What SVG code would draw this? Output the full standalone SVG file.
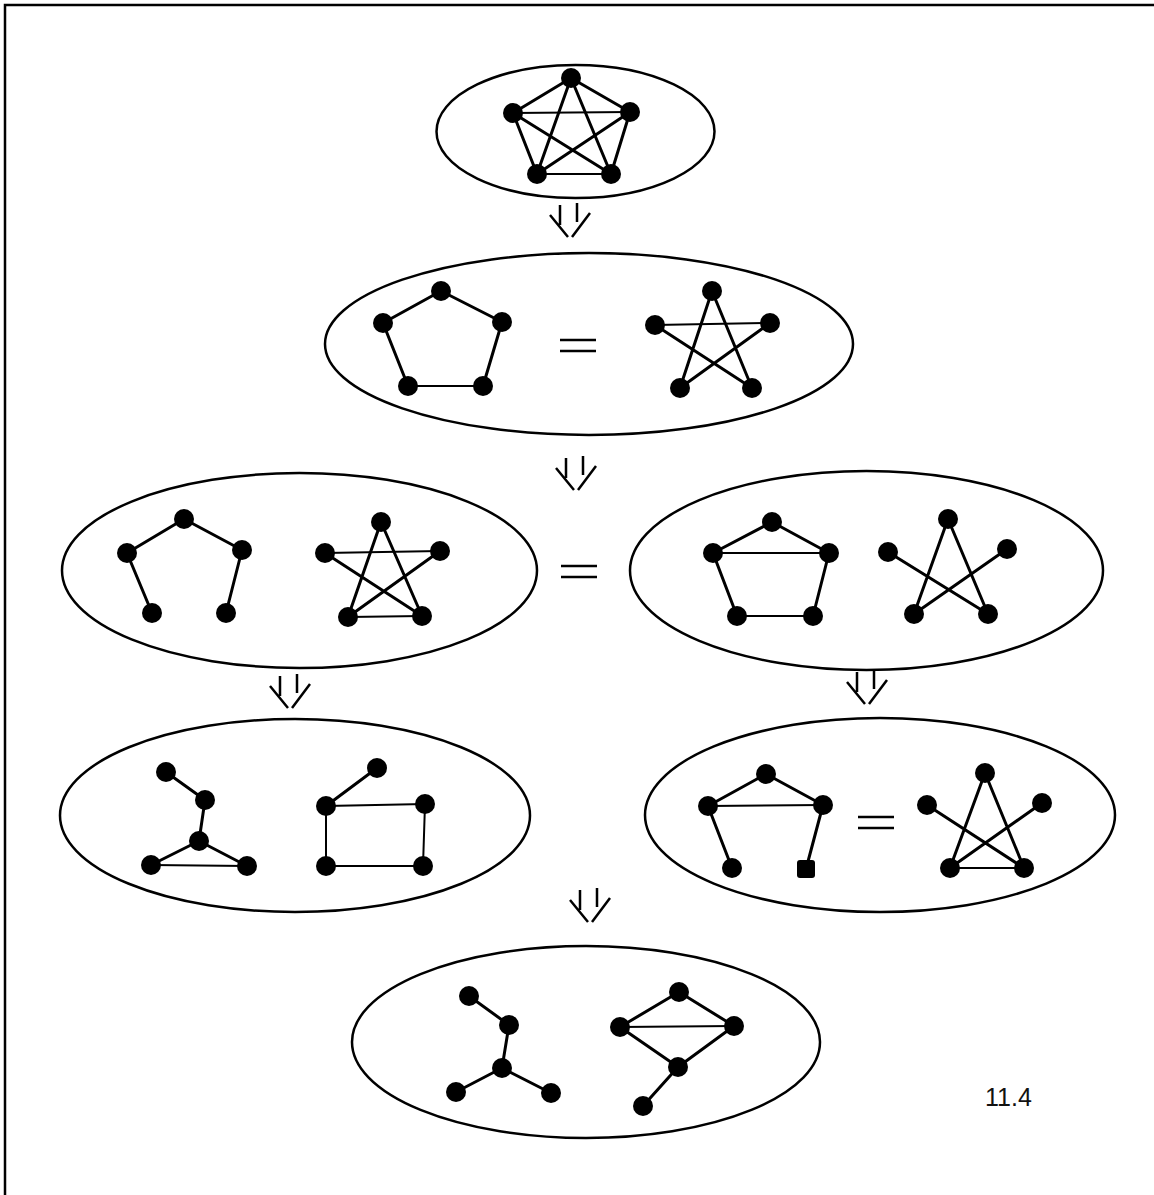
<svg xmlns="http://www.w3.org/2000/svg" width="1154" height="1195" viewBox="0 0 1154 1195">
<style>
.bg{fill:#fff}
.frame{stroke:#000;stroke-width:2.5;fill:none}
.ell{fill:none;stroke:#000;stroke-width:2.5}
.e{stroke:#000;stroke-width:3;fill:none;stroke-linecap:round}
.t{stroke:#000;stroke-width:2;fill:none}
.n{fill:#000}
.arr{stroke:#000;stroke-width:2.5;fill:none}
.eq{stroke:#000;stroke-width:2.5}
.lbl{font-family:"Liberation Sans",Arial,sans-serif;font-size:25px;fill:#111}
</style>
<defs>
<g id="arrow">
<path class="arr" d="M-10,-32 V-12 M7,-34 V-15 M-20,-22 L-2,0 M20,-24 L2,0"/>
</g>
<g id="eqsign">
<path class="eq" d="M0,0 H36 M0,11 H36"/>
</g>
</defs>
<rect class="bg" x="0" y="0" width="1154" height="1195"/>
<path class="frame" d="M5,1195 V5 H1154"/>

<g id="connectors">
<use href="#arrow" x="570" y="237"/>
<use href="#arrow" x="576" y="490"/>
<use href="#arrow" x="290" y="708"/>
<use href="#arrow" x="867" y="704"/>
<use href="#arrow" x="590" y="922"/>
</g>

<g id="node-k5">
<ellipse class="ell" cx="575.5" cy="131.5" rx="139" ry="66.5"/>
<path class="e" d="M571,78 L513,113 M571,78 L630,112 M571,78 L537,174 M571,78 L611,174 M513,113 L537,174 M630,112 L611,174 M513,113 L611,174 M630,112 L537,174"/>
<path class="t" d="M513,113 L630,112 M537,174 L611,174"/>
<circle class="n" cx="571" cy="78" r="10"/><circle class="n" cx="513" cy="113" r="10"/><circle class="n" cx="630" cy="112" r="10"/><circle class="n" cx="537" cy="174" r="10"/><circle class="n" cx="611" cy="174" r="10"/>
</g>

<g id="node-c5">
<ellipse class="ell" cx="589" cy="344" rx="264" ry="91"/>
<path class="e" d="M441,291 L383,323 M441,291 L502,322 M383,323 L408,386 M502,322 L483,386"/>
<path class="t" d="M408,386 L483,386"/>
<circle class="n" cx="441" cy="291" r="10"/><circle class="n" cx="383" cy="323" r="10"/><circle class="n" cx="502" cy="322" r="10"/><circle class="n" cx="408" cy="386" r="10"/><circle class="n" cx="483" cy="386" r="10"/>
<use href="#eqsign" x="560" y="340"/>
<path class="e" d="M712,291 L680,388 M712,291 L752,388 M655,325 L752,388 M770,323 L680,388"/>
<path class="t" d="M655,325 L770,323"/>
<circle class="n" cx="712" cy="291" r="10"/><circle class="n" cx="655" cy="325" r="10"/><circle class="n" cx="770" cy="323" r="10"/><circle class="n" cx="680" cy="388" r="10"/><circle class="n" cx="752" cy="388" r="10"/>
</g>

<g id="node-row3-left">
<ellipse class="ell" cx="299.5" cy="570.5" rx="237.5" ry="97.5"/>
<path class="e" d="M184,519 L127,553 M184,519 L242,550 M127,553 L152,613 M242,550 L226,613"/>
<circle class="n" cx="184" cy="519" r="10"/><circle class="n" cx="127" cy="553" r="10"/><circle class="n" cx="242" cy="550" r="10"/><circle class="n" cx="152" cy="613" r="10"/><circle class="n" cx="226" cy="613" r="10"/>
<path class="e" d="M381,522 L348,617 M381,522 L422,616 M325,553 L422,616 M440,551 L348,617"/>
<path class="t" d="M325,553 L440,551 M348,617 L422,616"/>
<circle class="n" cx="381" cy="522" r="10"/><circle class="n" cx="325" cy="553" r="10"/><circle class="n" cx="440" cy="551" r="10"/><circle class="n" cx="348" cy="617" r="10"/><circle class="n" cx="422" cy="616" r="10"/>
</g>

<use href="#eqsign" x="561" y="566"/>

<g id="node-row3-right">
<ellipse class="ell" cx="866.5" cy="570.5" rx="236.5" ry="99.5"/>
<path class="e" d="M772,522 L713,553 M772,522 L829,553 M713,553 L737,616 M829,553 L813,616"/>
<path class="t" d="M713,553 L829,553 M737,616 L813,616"/>
<circle class="n" cx="772" cy="522" r="10"/><circle class="n" cx="713" cy="553" r="10"/><circle class="n" cx="829" cy="553" r="10"/><circle class="n" cx="737" cy="616" r="10"/><circle class="n" cx="813" cy="616" r="10"/>
<path class="e" d="M948,519 L914,614 M948,519 L988,614 M888,552 L988,614 M1007,549 L914,614"/>
<circle class="n" cx="948" cy="519" r="10"/><circle class="n" cx="888" cy="552" r="10"/><circle class="n" cx="1007" cy="549" r="10"/><circle class="n" cx="914" cy="614" r="10"/><circle class="n" cx="988" cy="614" r="10"/>
</g>

<g id="node-row4-left">
<ellipse class="ell" cx="295" cy="815.5" rx="235" ry="96.5"/>
<path class="e" d="M166,772 L205,800 M205,800 L199,841 M199,841 L151,865 M199,841 L247,866"/>
<path class="t" d="M151,865 L247,866"/>
<circle class="n" cx="166" cy="772" r="10"/><circle class="n" cx="205" cy="800" r="10"/><circle class="n" cx="199" cy="841" r="10"/><circle class="n" cx="151" cy="865" r="10"/><circle class="n" cx="247" cy="866" r="10"/>
<path class="e" d="M377,768 L326,806"/>
<path class="t" d="M326,806 L425,804 M326,806 L326,866 M425,804 L423,866 M326,866 L423,866"/>
<circle class="n" cx="377" cy="768" r="10"/><circle class="n" cx="326" cy="806" r="10"/><circle class="n" cx="425" cy="804" r="10"/><circle class="n" cx="326" cy="866" r="10"/><circle class="n" cx="423" cy="866" r="10"/>
</g>

<g id="node-row4-right">
<ellipse class="ell" cx="880" cy="815" rx="235" ry="97"/>
<path class="e" d="M766,774 L708,806 M766,774 L823,805 M708,806 L732,868 M823,805 L806,869"/>
<path class="t" d="M708,806 L823,805"/>
<circle class="n" cx="766" cy="774" r="10"/><circle class="n" cx="708" cy="806" r="10"/><circle class="n" cx="823" cy="805" r="10"/><circle class="n" cx="732" cy="868" r="10"/>
<rect class="n" x="797" y="860" width="18" height="18" rx="3"/>
<use href="#eqsign" x="858" y="817"/>
<path class="e" d="M985,773 L950,868 M985,773 L1024,868 M927,805 L1024,868 M1042,803 L950,868"/>
<path class="t" d="M950,868 L1024,868"/>
<circle class="n" cx="985" cy="773" r="10"/><circle class="n" cx="927" cy="805" r="10"/><circle class="n" cx="1042" cy="803" r="10"/><circle class="n" cx="950" cy="868" r="10"/><circle class="n" cx="1024" cy="868" r="10"/>
</g>

<g id="node-row5">
<ellipse class="ell" cx="586" cy="1042" rx="234" ry="96"/>
<path class="e" d="M469,996 L509,1025 M509,1025 L502,1068 M502,1068 L456,1092 M502,1068 L551,1093"/>
<circle class="n" cx="469" cy="996" r="10"/><circle class="n" cx="509" cy="1025" r="10"/><circle class="n" cx="502" cy="1068" r="10"/><circle class="n" cx="456" cy="1092" r="10"/><circle class="n" cx="551" cy="1093" r="10"/>
<path class="e" d="M679,992 L620,1027 M679,992 L734,1026 M620,1027 L678,1067 M734,1026 L678,1067 M678,1067 L643,1106"/>
<path class="t" d="M620,1027 L734,1026"/>
<circle class="n" cx="679" cy="992" r="10"/><circle class="n" cx="620" cy="1027" r="10"/><circle class="n" cx="734" cy="1026" r="10"/><circle class="n" cx="678" cy="1067" r="10"/><circle class="n" cx="643" cy="1106" r="10"/>
</g>

<text class="lbl" x="985" y="1106">11.4</text>
</svg>
